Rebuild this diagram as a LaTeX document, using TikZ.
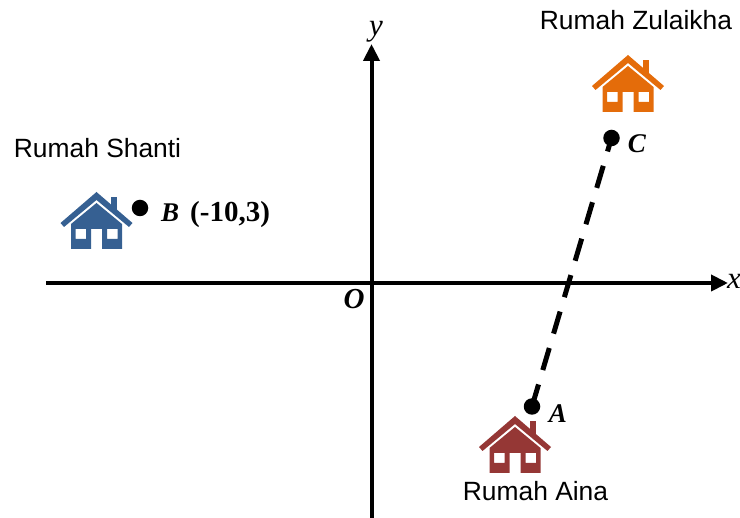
\documentclass[tikz,border=0pt]{standalone}
\usepackage{fontspec}
\setmainfont{Liberation Serif}
\newfontfamily\sansfont{Liberation Sans}
\usetikzlibrary{arrows.meta}

\definecolor{houseblue}{RGB}{54,96,146}
\definecolor{houseorange}{RGB}{228,108,10}
\definecolor{housered}{RGB}{149,55,53}

\tikzset{
    axisline/.style={line width=4pt, -{Triangle[length=17pt, width=16pt]}},
    point/.style={circle, fill=black, inner sep=0pt, minimum size=16.5pt},
    mathlabel/.style={font=\fontsize{27}{30}\selectfont\bfseries\itshape, inner sep=0pt},
    axislabel/.style={font=\fontsize{31}{32}\selectfont\itshape, inner sep=0pt},
    placelabel/.style={font=\fontsize{26.4}{30}\selectfont\sansfont, inner sep=0pt},
    house/.pic={
        \fill (0,0) -- (36,31) -- (32.5,35) -- (0,8) -- (-32.5,35) -- (-36,31) -- cycle;
        \fill (14.5,5) rectangle (20.5,20);
        \fill[even odd rule] (0,11) -- (25.5,32) -- (25.5,57) -- (5.5,57) -- (5.5,37) -- (-5.5,37)
            -- (-5.5,57) -- (-25.5,57) -- (-25.5,32) -- cycle
            (-21,37) rectangle (-10.5,47)
            (10.5,37) rectangle (21,47);
    }
}

\begin{document}
\begin{tikzpicture}[x=1pt, y=-1pt]
    \clip (0, 0) rectangle (740, 518);

    % houses
    \foreach \x/\y/\col in {96.5/192/houseblue, 628/55/houseorange, 515/416/housered} {
        \pic[fill=\col] at (\x, \y) {house};
    }

    % axes
    \coordinate (xstart) at (46, 283);
    \coordinate (xend) at (728, 283);
    \coordinate (ystart) at (371.5, 518);
    \coordinate (yend) at (371.5, 44);
    \draw[axisline] (xstart) -- (xend);
    \draw[axisline] (ystart) -- (yend);

    % points
    \node[point] (ptB) at (140, 208) {};
    \node[point] (ptC) at (611.5, 138) {};
    \node[point] (ptA) at (532, 406.5) {};
    \draw[line width=5pt, dash pattern=on 23pt off 15pt] (ptA.center) -- (ptC.center);

    % labels
    \node[axislabel] (lblx) at (734, 281) {x};
    \node[axislabel] (lbly) at (376, 32) {y};
    \node[mathlabel, font=\fontsize{29}{30}\selectfont\bfseries\itshape] (lblO) at (354, 299) {O};
    \node[mathlabel] (lblA) at (558, 414) {A};
    \node[mathlabel] (lblC) at (637, 144) {C};
    \node[mathlabel, anchor=base west] (lblB) at (161, 222) {B\hspace{11pt}{\fontsize{29}{30}\selectfont\normalfont\bfseries(-10,3)}};

    \node[placelabel] (zulaikha) at (636, 20) {Rumah Zulaikha};
    \node[placelabel] (shanti) at (97.5, 148) {Rumah Shanti};
    \node[placelabel] (aina) at (535.5, 491) {Rumah Aina};
\end{tikzpicture}
\end{document}
